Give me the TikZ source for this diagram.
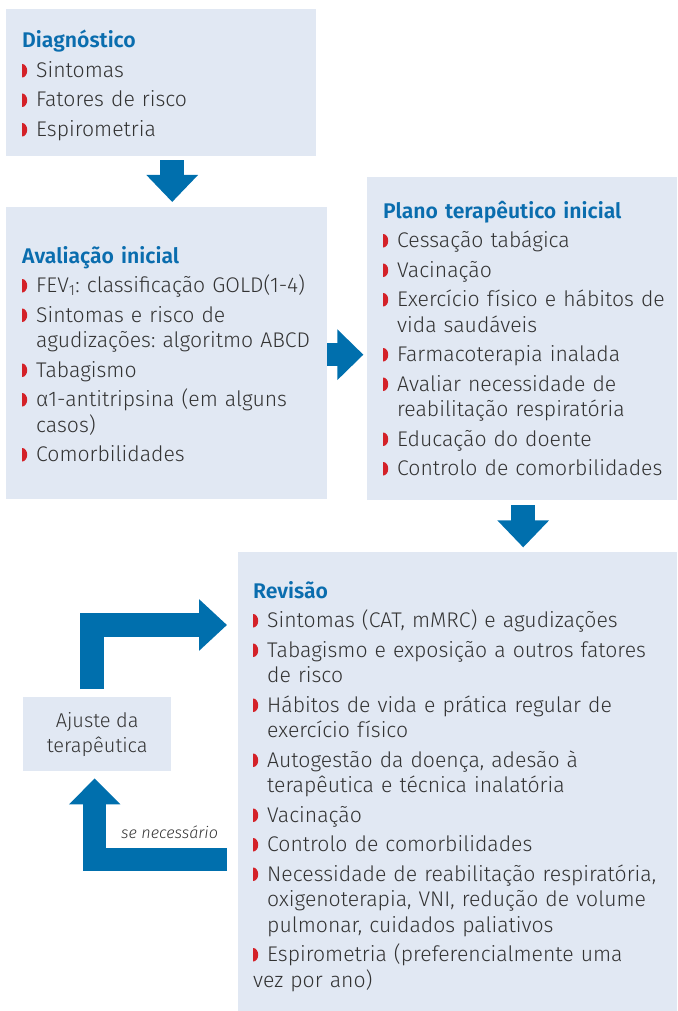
\documentclass[tikz,border=0pt]{standalone}
\usepackage{fontspec}
\setmainfont{Fira Sans Light}[BoldFont={Fira Sans SemiBold},ItalicFont={Fira Sans Light Italic}]
\usetikzlibrary{calc,positioning,arrows.meta}
\definecolor{boxfill}{HTML}{E1E8F3}
\definecolor{arrowblue}{HTML}{006FAD}
\definecolor{titleblue}{HTML}{0A6DAE}
\definecolor{bulred}{HTML}{D42128}
\definecolor{textgrey}{HTML}{333333}
\frenchspacing
% red half-disc bullet and list items
\newcommand{\bulmark}{\tikz[x=1pt,y=1pt,baseline=0pt]\fill[bulred] (0,0) -- (0,13.5) arc[start angle=90,end angle=-90,x radius=5,y radius=6.75] -- cycle;}
\newcommand{\itm}{\par\hangindent=14pt\hangafter=1\noindent\makebox[14pt][l]{\bulmark}}
\newcommand{\boxtitle}[1]{\setlength{\parskip}{4pt}\setlength{\lineskip}{0pt}{\bfseries\color{titleblue}#1}}

\begin{document}
\begin{tikzpicture}[x=1pt,y=-1pt,
  stepbox/.style={fill=boxfill,inner sep=0,anchor=north west},
  boxtext/.style={anchor=base west,inner sep=0,text width=430pt,align=left,
    text=textgrey,font=\fontsize{21.2}{25.5}\selectfont},
  bigarrow/.style={draw=arrowblue,line width=24pt,-{Triangle[width=50pt,length=27pt]}}]
\useasboundingbox (0,0) rectangle (677,1011);

% boxes
\node[stepbox,minimum width=310pt,minimum height=147pt] (diag) at (6,9) {};
\node[stepbox,minimum width=321pt,minimum height=292pt] (aval) at (6,207) {};
\node[stepbox,minimum width=310pt,minimum height=323pt] (plano) at (367,177) {};
\node[stepbox,minimum width=439pt,minimum height=459pt] (revi) at (238,552) {};
\node[stepbox,minimum width=148pt,minimum height=74pt,align=center,text=textgrey,
  font=\fontsize{20}{25}\selectfont] (ajuste) at (23,697) {Ajuste da\\terapêutica};

% arrows
\draw[bigarrow] ($(diag.south)+(11,4)$) -- ($(aval.north)+(5.5,-5)$);
\draw[bigarrow,line width=23pt,-{Triangle[width=49pt,length=26pt]}]
  ($(aval.east)+(0,1.5)$) -- ++(36,0);
\draw[bigarrow] ($(plano.south)+(1,5)$) -- ++(0,42);
\draw[bigarrow,-{Triangle[width=50pt,length=28pt]}]
  ($(ajuste.north)+(-5.5,-8)$) |- ($(revi.north west)+(-11,73)$);
\draw[bigarrow,line width=23pt,-{Triangle[width=50pt,length=26pt]}]
  ($(revi.north west)+(-11,307.5)$) -| ($(ajuste.south)+(-2.5,7)$);
\node[anchor=base west,inner sep=0,text=textgrey,font=\fontsize{16.2}{18}\selectfont\itshape]
  (senec) at (121,838) {se necessário};

% texts
\node[boxtext] (diagtxt) at ($(diag.north west)+(16,39)$) {\boxtitle{Diagnóstico}
  \itm Sintomas
  \itm Fatores de risco
  \itm Espirometria};
\node[boxtext] (avaltxt) at ($(aval.north west)+(16,56)$) {\boxtitle{Avaliação inicial}
  \itm FEV\textsubscript{1}: classificação GOLD(1-4)
  \itm Sintomas e risco de\newline agudizações: algoritmo ABCD
  \itm Tabagismo
  \itm α1-antitripsina (em alguns\newline casos)
  \itm Comorbilidades};
\node[boxtext] (planotxt) at ($(plano.north west)+(16,41)$) {\boxtitle{Plano terapêutico inicial}
  \itm Cessação tabágica
  \itm Vacinação
  \itm Exercício físico e hábitos de\newline vida saudáveis
  \itm Farmacoterapia inalada
  \itm Avaliar necessidade de\newline reabilitação respiratória
  \itm Educação do doente
  \itm Controlo de comorbilidades};
\node[boxtext] (revitxt) at ($(revi.north west)+(15,46)$) {\boxtitle{Revisão}
  \itm Sintomas (CAT, mMRC) e agudizações
  \itm Tabagismo e exposição a outros fatores\newline de risco
  \itm Hábitos de vida e prática regular de\newline exercício físico
  \itm Autogestão da doença, adesão à\newline terapêutica e técnica inalatória
  \itm Vacinação
  \itm Controlo de comorbilidades
  \itm Necessidade de reabilitação respiratória,\newline oxigenoterapia, VNI, redução de volume\newline pulmonar, cuidados paliativos
  \itm Espirometria (preferencialmente uma\newline vez por ano)};
\end{tikzpicture}
\end{document}
